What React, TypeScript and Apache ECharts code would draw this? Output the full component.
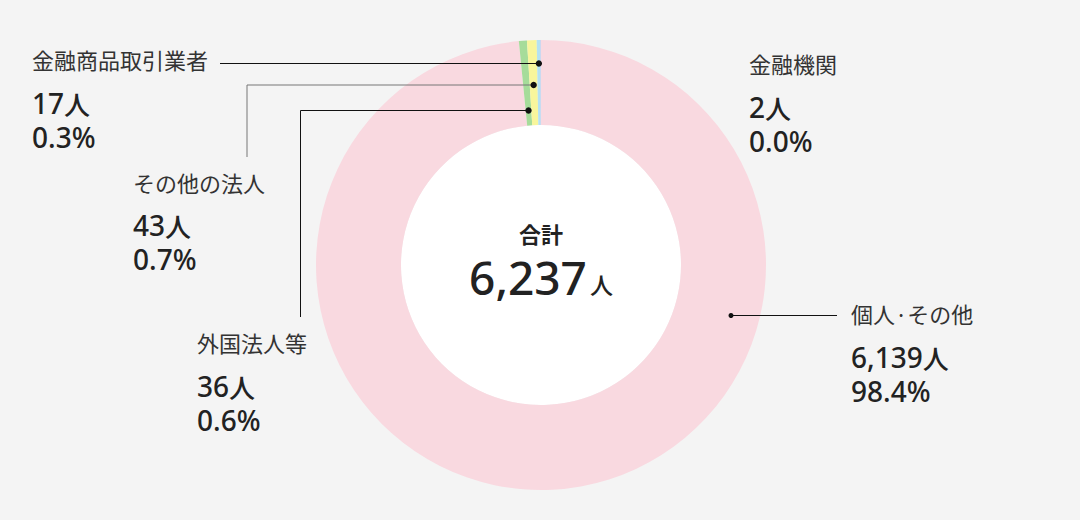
import React, { useEffect, useRef } from "react";
import * as echarts from "echarts";

// 円グラフの描画順：12時から時計回り
const names = ["個人·その他", "外国法人等", "その他の法人", "金融商品取引業者", "金融機関"];
const counts = [6139, 36, 43, 17, 2];
const countLabels = ["6,139", "36", "43", "17", "2"];
const percentLabels = ["98.4%", "0.6%", "0.7%", "0.3%", "0.0%"];
const totalLabel = "6,237";
const sliceColors = ["#f9d9e0", "#a6dc9a", "#f8f69c", "#b4e2f3", "#c8c2ea"];

const FONT = "'Noto Sans CJK JP', 'Noto Sans', sans-serif";
const NUM_FONT = "'Noto Sans', 'Noto Sans CJK JP', sans-serif";
const CX = 541;
const CY = 265;
const R_IN = 140;
const R_OUT = 225;

type LabelLayout = {
  x: number;
  y: number;
  gap: number;
  lineY?: number;
  lineStartX?: number;
  elbowX?: number;
  elbowY?: number;
  lineColor?: string;
  dot?: [number, number];
};
const layouts: LabelLayout[] = [
  { x: 851, y: 313, gap: 44, lineY: 315.5, lineStartX: 837, dot: [731, 315.5], lineColor: "#111" },
  { x: 197, y: 342, gap: 44, lineY: 110.5, elbowX: 300.5, elbowY: 317, lineColor: "#111" },
  { x: 133, y: 182, gap: 43, lineY: 85, elbowX: 247, elbowY: 157, lineColor: "#777" },
  { x: 32, y: 59, gap: 44, lineY: 63.5, lineStartX: 220, lineColor: "#111" },
  { x: 749, y: 63, gap: 44 },
];

function midAngles(): number[] {
  // 12時から反時計回りに測った各スライス中心の角度（度）
  const total = counts.reduce((a, b) => a + b, 0);
  const out: number[] = [];
  let acc = 0;
  for (let i = 0; i < counts.length; i++) {
    const deg = (counts[i] / total) * 360;
    const midCw = acc + deg / 2;
    acc += deg;
    out.push(360 - midCw);
  }
  return out;
}

function buildGraphics(): any[] {
  const g: any[] = [];
  const angles = midAngles();
  g.push({
    type: "circle",
    shape: { cx: CX, cy: CY, r: R_IN },
    style: { fill: "#ffffff" },
    silent: true,
  });
  g.push({
    type: "text",
    x: CX,
    y: 233,
    style: {
      text: "合計",
      fontSize: 22,
      fontWeight: "bold",
      fontFamily: FONT,
      fill: "#222",
      align: "center",
      verticalAlign: "middle",
    },
  });
  g.push({
    type: "text",
    x: CX,
    y: 300,
    style: {
      text: `{n|${totalLabel}}{u|人}`,
      fontFamily: NUM_FONT,
      fill: "#222",
      align: "center",
      verticalAlign: "bottom",
      rich: {
        n: { fontSize: 46, fontWeight: 500, fontFamily: NUM_FONT, fill: "#222", verticalAlign: "bottom" },
        u: { fontSize: 23, fontWeight: 500, fontFamily: FONT, fill: "#222", verticalAlign: "bottom", padding: [0, 0, 5, 3] },
      },
    },
  });

  layouts.forEach((l, i) => {
    g.push({
      type: "text",
      x: l.x,
      y: l.y,
      style: {
        text: names[i],
        fontSize: 22,
        fontFamily: FONT,
        fill: "#333",
        verticalAlign: "middle",
      },
    });
    g.push({
      type: "text",
      x: l.x,
      y: l.y + l.gap - 17,
      style: {
        text: `{n|${countLabels[i]}}{u|人}\n{n|${percentLabels[i]}}`,
        fontFamily: NUM_FONT,
        fill: "#222",
        verticalAlign: "top",
        rich: {
          n: { fontSize: 28, fontWeight: 500, fontFamily: NUM_FONT, fill: "#222", lineHeight: 34 },
          u: { fontSize: 26, fontWeight: 500, fontFamily: FONT, fill: "#222", lineHeight: 34 },
        },
      },
    });

    if (l.lineY === undefined) return;
    let dx: number;
    let dy: number;
    if (l.dot) {
      dx = l.dot[0];
      dy = l.dot[1];
    } else {
      const rad = (angles[i] * Math.PI) / 180;
      dy = l.lineY;
      dx = CX - (CY - dy) * Math.tan(rad);
    }
    const pts: number[][] = [];
    if (l.elbowX !== undefined) {
      pts.push([l.elbowX, l.elbowY!], [l.elbowX, l.lineY], [dx, dy]);
    } else {
      pts.push([l.lineStartX!, l.lineY], [dx, dy]);
    }
    g.push({
      type: "polyline",
      shape: { points: pts },
      style: { stroke: l.lineColor || "#111", lineWidth: 1, fill: null },
      silent: true,
      z: 10,
    });
    g.push({
      type: "circle",
      shape: { cx: dx, cy: dy, r: l.dot ? 2.5 : 3.2 },
      style: { fill: "#111" },
      silent: true,
      z: 11,
    });
  });
  return g;
}

export default function App() {
  const ref = useRef<HTMLDivElement>(null);

  useEffect(() => {
    if (!ref.current) return;
    const chart = echarts.init(ref.current, undefined, { renderer: "svg" });
    chart.setOption({
      animation: false,
      backgroundColor: "#f4f4f4",
      series: [
        {
          type: "pie",
          center: [CX, CY],
          radius: [R_IN, R_OUT],
          startAngle: 90,
          clockwise: true,
          silent: true,
          label: { show: false },
          labelLine: { show: false },
          itemStyle: { borderWidth: 0 },
          data: names.map((n, i) => ({
            name: n,
            value: counts[i],
            itemStyle: { color: sliceColors[i] },
          })),
        },
      ],
      graphic: buildGraphics(),
    });
    return () => chart.dispose();
  }, []);

  return (
    <div
      ref={ref}
      style={{ position: "fixed", left: 0, top: 0, width: 1080, height: 520 }}
    />
  );
}
